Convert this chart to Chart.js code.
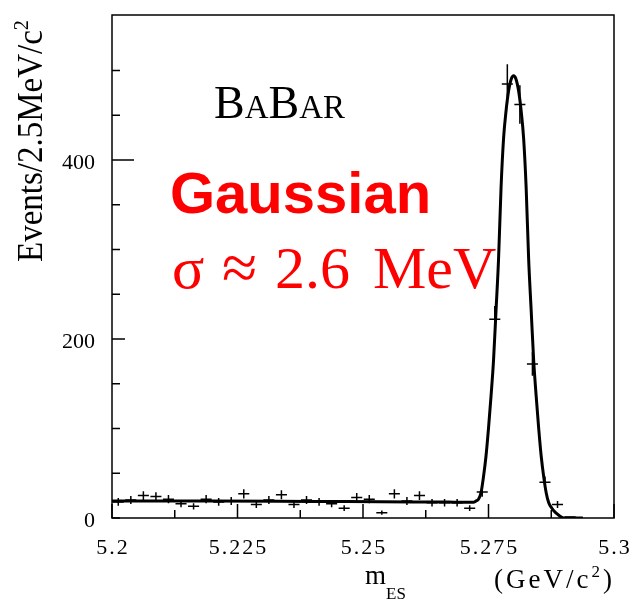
<!DOCTYPE html>
<html>
  <head>
    <title>BaBar mES</title>
    <script src="https://cdn.jsdelivr.net/npm/chart.js"></script>
    <style>
      body { margin: 0; background: #fff; }
      canvas { display: block; }
    </style>
  </head>
  <body>
    <canvas id="mesChart" width="633" height="603"></canvas>

    <script>
      // histogram bins (2.5 MeV wide), centres in GeV/c^2
      const binCenters = [
        5.20125, 5.20375, 5.20625, 5.20875, 5.21125, 5.21375, 5.21625, 5.21875, 5.22125, 5.22375,
        5.22625, 5.22875, 5.23125, 5.23375, 5.23625, 5.23875, 5.24125, 5.24375, 5.24625, 5.24875,
        5.25125, 5.25375, 5.25625, 5.25875, 5.26125, 5.26375, 5.26625, 5.26875, 5.27125, 5.27375,
        5.27625, 5.27875, 5.28125, 5.28375, 5.28625, 5.28875, 5.29125
      ];
      const binCounts = [
        18, 20, 25, 24, 21, 16, 13, 21, 18, 19,
        27, 15, 20, 26, 15, 20, 18, 16, 11, 23,
        21, 6, 27, 19, 25, 17, 17, 17, 11, 29,
        222, 485, 462, 172, 40, 15, 1
      ];

      // fitted curve (gaussian on top of the background)
      const fitX = [
        5.2, 5.22, 5.24, 5.26, 5.265, 5.269, 5.270, 5.271, 5.272, 5.2725,
        5.273, 5.2735, 5.274, 5.2745, 5.275, 5.2755, 5.276, 5.2765, 5.277, 5.2775,
        5.278, 5.2785, 5.279, 5.2795, 5.280, 5.2805, 5.281, 5.2815, 5.282, 5.2825,
        5.283, 5.2835, 5.284, 5.2845, 5.285, 5.2855, 5.286, 5.2865, 5.287, 5.2875,
        5.288, 5.289, 5.290, 5.2938
      ];
      const fitY = [
        19, 19, 18.5, 18, 18, 17.5, 17.5, 17.5, 17.5, 19,
        21, 28, 46, 69, 100, 136, 176, 232, 289, 369,
        424, 455, 477, 490, 494, 490, 477, 455, 424, 369,
        289, 232, 176, 136, 100, 69, 46, 28, 17, 12,
        8, 3, 0, 0
      ];

      const xLabelTicks = [5.2, 5.225, 5.25, 5.275, 5.3];
      const yLabelTicks = [0, 200, 400];

      const serif = '"Liberation Serif", "Times New Roman", serif';
      const halfBin = 0.0011;

      // draws a run of text pieces: [text, fontSize, baselineShift]
      function drawPieces(ctx, pieces, x, y, spacing) {
        let cx = x;
        pieces.forEach(([txt, size, dy]) => {
          ctx.font = `${size}px ${serif}`;
          ctx.letterSpacing = spacing + "px";
          ctx.fillText(txt, cx, y + dy);
          cx += ctx.measureText(txt).width;
        });
      }

      const frameAndText = {
        id: "frameAndText",
        afterDatasetsDraw(chart) {
          const { ctx, chartArea: a, scales: { x, y } } = chart;

          // data points with error bars
          ctx.save();
          ctx.beginPath();
          ctx.rect(a.left, a.top, a.right - a.left, a.bottom - a.top);
          ctx.clip();
          ctx.strokeStyle = "#000";
          ctx.lineWidth = 1.5;
          binCenters.forEach((c, i) => {
            const n = binCounts[i];
            const err = Math.sqrt(n);
            const px = x.getPixelForValue(c);
            const py = y.getPixelForValue(n);
            ctx.beginPath();
            ctx.moveTo(x.getPixelForValue(c - halfBin), py);
            ctx.lineTo(x.getPixelForValue(c + halfBin), py);
            ctx.moveTo(px, y.getPixelForValue(n - err));
            ctx.lineTo(px, y.getPixelForValue(n + err));
            ctx.stroke();
          });
          ctx.restore();
        },
        afterDraw(chart) {
          const { ctx, chartArea: a, scales: { x, y } } = chart;
          ctx.save();
          ctx.strokeStyle = "#000";
          ctx.fillStyle = "#000";
          ctx.lineWidth = 1.5;
          ctx.strokeRect(a.left, a.top, a.right - a.left, a.bottom - a.top);

          // ticks point into the frame
          ctx.beginPath();
          x.ticks.forEach(t => {
            const px = x.getPixelForValue(t.value);
            const major = xLabelTicks.some(v => Math.abs(v - t.value) < 1e-6);
            ctx.moveTo(px, a.bottom);
            ctx.lineTo(px, a.bottom - (major ? 14 : 8));
          });
          y.ticks.forEach(t => {
            if (t.value % 50 !== 0) return;
            const py = y.getPixelForValue(t.value);
            const len = t.value === 400 ? 22 : (t.value === 200 ? 13 : 8);
            ctx.moveTo(a.left, py);
            ctx.lineTo(a.left + len, py);
          });
          ctx.stroke();

          ctx.textBaseline = "alphabetic";
          ctx.font = `22px ${serif}`;
          ctx.textAlign = "center";
          ctx.letterSpacing = "2px";
          xLabelTicks.forEach(v => {
            ctx.fillText(String(v), x.getPixelForValue(v) + 1, a.bottom + 36);
          });
          ctx.textAlign = "right";
          ctx.letterSpacing = "0px";
          yLabelTicks.forEach(v => {
            ctx.fillText(String(v), a.left - 17, y.getPixelForValue(v) + 9);
          });

          // axis titles
          ctx.textAlign = "left";
          drawPieces(ctx, [["m", 27, 0], ["ES", 17, 15]], 365, 584, 0);
          drawPieces(ctx, [["(GeV/c", 27, 0], ["2", 17, -11], [")", 27, 0]], 494, 588, 3);

          ctx.save();
          ctx.translate(42, 262);
          ctx.rotate(-Math.PI / 2);
          ctx.scale(1, 1.1);
          drawPieces(ctx, [["Events/2.5MeV/c", 33, 0], ["2", 20, -13]], 0, 0, 0);
          ctx.restore();

          // experiment logo
          drawPieces(ctx, [["B", 46, 0], ["A", 33, 0], ["B", 46, 0], ["AR", 33, 0]], 214, 118, 0);

          // fit annotation
          ctx.fillStyle = "#ff0000";
          ctx.letterSpacing = "0px";
          ctx.font = 'bold 58px "Liberation Sans", Arial, sans-serif';
          ctx.fillText("Gaussian", 170, 213);
          ctx.font = `60px ${serif}`;
          ctx.fillText("σ", 172, 288);
          ctx.fillText("2.6", 275, 288);
          ctx.fillText("MeV", 373, 288);
          ctx.font = `64px ${serif}`;
          ctx.fillText("≈", 222, 289);
          ctx.restore();
        }
      };

      new Chart(document.getElementById("mesChart"), {
        type: "line",
        data: {
          datasets: [
            {
              label: "fit",
              data: fitX.map((v, i) => ({ x: v, y: fitY[i] })),
              borderColor: "#000",
              borderWidth: 3,
              pointRadius: 0,
              cubicInterpolationMode: "monotone",
              fill: false
            },
            {
              label: "data",
              type: "scatter",
              data: binCenters.map((v, i) => ({ x: v, y: binCounts[i] })),
              pointRadius: 0
            }
          ]
        },
        options: {
          responsive: false,
          animation: false,
          events: [],
          layout: { padding: { top: 15, right: 19, left: 0, bottom: 0 } },
          plugins: { legend: { display: false }, tooltip: { enabled: false } },
          scales: {
            x: {
              type: "linear",
              min: 5.2,
              max: 5.3,
              ticks: { display: false, stepSize: 0.0125 },
              grid: { display: false },
              border: { display: false },
              afterFit(s) { s.height = 85; }
            },
            y: {
              min: 0,
              max: 562,
              ticks: { display: false, stepSize: 50 },
              grid: { display: false },
              border: { display: false },
              afterFit(s) { s.width = 112; }
            }
          }
        },
        plugins: [frameAndText]
      });
    </script>
  </body>
</html>
